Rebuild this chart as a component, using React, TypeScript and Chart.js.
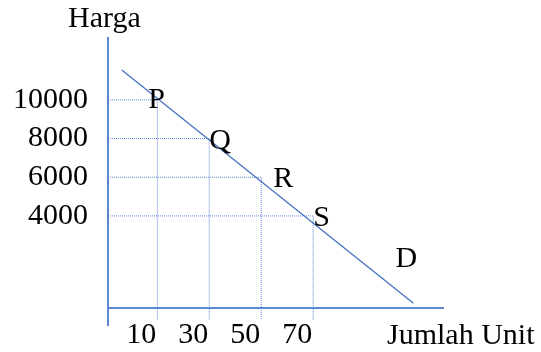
import { useEffect, useRef } from 'react';
import { Chart, registerables } from 'chart.js';

Chart.register(...registerables);

// Demand schedule: quantity (units) against price
const QUANTITIES = [10, 30, 50, 70];
const PRICES = [10000, 8000, 6000, 4000];
const POINT_NAMES = ['P', 'Q', 'R', 'S'];

// Demand curve D, start and end of the drawn segment
const DEMAND_Q = [-3.7, 108.6];
const DEMAND_P = [11545, -518];
const CURVE_NAME = 'D';

const Y_TITLE = 'Harga';
const X_TITLE = 'Jumlah Unit';

// Scale extents and where the quantity axis crosses the price axis
const X_MIN = -9;
const X_MAX = 120;
const Y_MIN = -1640;
const Y_MAX = 13200;
const AXIS_PRICE = -780;
const GUIDE_FLOOR = -1380;

const FONT_FAMILY = '"Liberation Serif", "Times New Roman", serif';
const FONT_SIZE = 30;
const AXIS_COLOR = '#5b87d3';
const LINE_COLOR = '#4472c4';
const GUIDE_COLOR = '#5a86d4';
const TEXT_COLOR = '#000000';

// Pixel nudges for the point names, relative to each point
const NAME_NUDGE: [number, number][] = [
  [-9, 8],
  [0, 10],
  [12, 10],
  [0, 10],
];

const annotate = {
  id: 'annotate',
  afterDatasetsDraw(chart: any) {
    const { ctx, chartArea, scales } = chart;
    const x = scales.x;
    const y = scales.y;
    ctx.save();
    ctx.font = `${FONT_SIZE}px ${FONT_FAMILY}`;
    ctx.fillStyle = TEXT_COLOR;
    ctx.textAlign = 'left';
    ctx.textBaseline = 'alphabetic';
    ctx.fillText(Y_TITLE, chartArea.left - 40, chartArea.top - 11);
    const axisY = y.getPixelForValue(AXIS_PRICE);
    ctx.fillText(X_TITLE, chartArea.right - 56, axisY + 36);
    POINT_NAMES.forEach((name, i) => {
      const [dx, dy] = NAME_NUDGE[i];
      ctx.fillText(
        name,
        x.getPixelForValue(QUANTITIES[i]) + dx,
        y.getPixelForValue(PRICES[i]) + dy
      );
    });
    ctx.fillText(
      CURVE_NAME,
      x.getPixelForValue(DEMAND_Q[1]) - 18,
      y.getPixelForValue(DEMAND_P[1]) - 36
    );
    ctx.restore();
  },
};

export default function App() {
  const canvasRef = useRef<HTMLCanvasElement | null>(null);

  useEffect(() => {
    const canvas = canvasRef.current;
    if (!canvas) return;

    const guides = QUANTITIES.map((q, i) => ({
      data: [
        { x: X_MIN, y: PRICES[i] },
        { x: q, y: PRICES[i] },
        { x: q, y: GUIDE_FLOOR },
      ],
      borderColor: GUIDE_COLOR,
      borderWidth: 1,
      borderDash: [1, 1],
      pointRadius: 0,
      tension: 0,
      fill: false,
    }));

    const demand = {
      data: [
        { x: DEMAND_Q[0], y: DEMAND_P[0] },
        { x: DEMAND_Q[1], y: DEMAND_P[1] },
      ],
      borderColor: LINE_COLOR,
      borderWidth: 1.3,
      pointRadius: 0,
      tension: 0,
      fill: false,
    };

    const tickFont = { family: FONT_FAMILY, size: FONT_SIZE };

    const chart = new Chart(canvas, {
      type: 'line',
      data: { datasets: [demand, ...guides] },
      options: {
        animation: false,
        responsive: true,
        maintainAspectRatio: false,
        layout: { padding: { left: 8, top: 38, right: 98, bottom: 27 } },
        plugins: {
          legend: { display: false },
          tooltip: { enabled: false },
        },
        scales: {
          x: {
            type: 'linear',
            min: X_MIN,
            max: X_MAX,
            position: { y: AXIS_PRICE },
            grid: { display: false, drawTicks: false },
            border: { display: true, color: AXIS_COLOR, width: 2 },
            afterBuildTicks: (scale: any) => {
              scale.ticks = QUANTITIES.map((v) => ({ value: v }));
            },
            ticks: {
              font: tickFont,
              color: TEXT_COLOR,
              padding: 9,
              labelOffset: -16,
              autoSkip: false,
              maxRotation: 0,
              callback: (v: any) => String(v),
            },
          },
          y: {
            type: 'linear',
            position: 'left',
            min: Y_MIN,
            max: Y_MAX,
            grid: { display: false, drawTicks: false },
            border: { display: true, color: AXIS_COLOR, width: 2 },
            afterBuildTicks: (scale: any) => {
              scale.ticks = PRICES.map((v) => ({ value: v }));
            },
            afterFit: (scale: any) => {
              // fixed gutter for the price labels; plot edges come from layout padding
              scale.width = 100;
              scale.paddingTop = 0;
              scale.paddingBottom = 0;
            },
            ticks: {
              font: tickFont,
              color: TEXT_COLOR,
              padding: 20,
              autoSkip: false,
              callback: (v: any) => String(v),
            },
          },
        },
      },
      plugins: [annotate],
    } as any);

    return () => chart.destroy();
  }, []);

  return (
    <div
      style={{
        position: 'fixed',
        left: 0,
        top: 0,
        width: 541,
        height: 352,
        background: '#ffffff',
      }}
    >
      <canvas ref={canvasRef} />
    </div>
  );
}
